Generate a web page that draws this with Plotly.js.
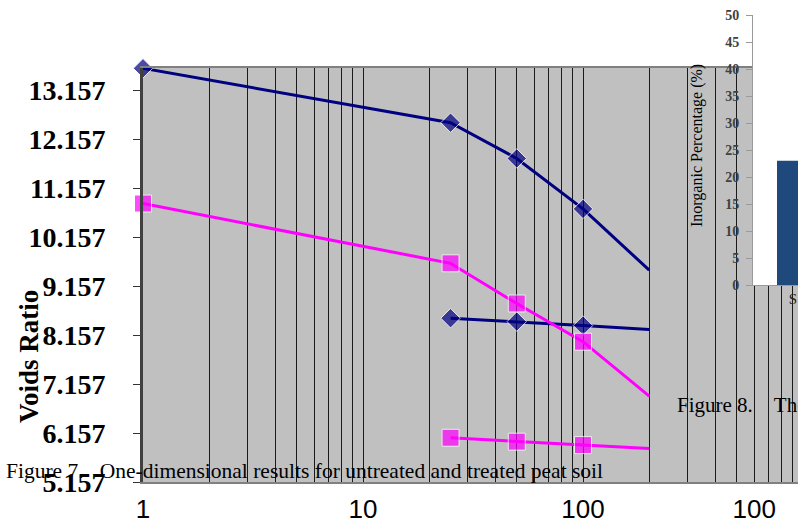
<!DOCTYPE html>
<html>
<head>
<meta charset="utf-8">
<script src="https://cdn.plot.ly/plotly-3.0.1.min.js"></script>
<style>
html, body { margin: 0; padding: 0; background: #ffffff; }
#chart { width: 798px; height: 526px; }
</style>
</head>
<body>
<div id="chart"></div>
<script>
// ---- data ----
const loadsA = [1, 25, 50, 100, 200];           // pressure (log axis)
const loadsB = [25, 50, 100, 200];
const untreatedUpper = [13.60, 12.49, 11.76, 10.73, 9.48];
const treatedUpper   = [10.84, 9.62, 8.80, 8.02, 6.91];
const untreatedLower = [8.50, 8.43, 8.35, 8.27];
const treatedLower   = [6.06, 5.98, 5.91, 5.84];

const yTickVals = [5.157, 6.157, 7.157, 8.157, 9.157, 10.157, 11.157, 12.157, 13.157];
const xGridVals = [1,2,3,4,5,6,7,8,9,10,20,30,40,50,60,70,80,90,100,200,300,400,500,600,700,800,900];
const xLabelVals = [1, 10, 100, 600];
const xLabelText = ['1', '10', '100', '100'];

// overlapping second figure (inorganic percentage bar)
const barCategories = ['S'];
const barValues = [23];
const barTicks = [0, 5, 10, 15, 20, 25, 30, 35, 40, 45, 50];

// ---- layout helpers ----
const W = 798, H = 526;
const M = { l: 143, r: 0, t: 0, b: 44 };
const PW = W - M.l - M.r, PH = H - M.t - M.b;
const px = x => (x - M.l) / PW;      // canvas px -> paper x
const py = y => (H - M.b - y) / PH;  // canvas px -> paper y

const xTickText = xGridVals.map(v => {
  const i = xLabelVals.indexOf(v);
  return i >= 0 ? xLabelText[i] : '';
});

const navy = '#000080', magenta = '#FF00FF';
const sizes = (arr, s) => arr.map((v, i) => (i === arr.length - 1 ? 0 : s));

const traces = [
  { x: loadsA, y: untreatedUpper, type: 'scatter', mode: 'lines+markers', name: 'Untreated',
    line: { color: navy, width: 3 }, marker: { symbol: 'diamond', color: navy, size: sizes(loadsA, 15) },
    cliponaxis: false, xaxis: 'x', yaxis: 'y' },
  { x: loadsB, y: untreatedLower, type: 'scatter', mode: 'lines+markers', name: 'Untreated (2)',
    line: { color: navy, width: 3 }, marker: { symbol: 'diamond', color: navy, size: sizes(loadsB, 15) },
    cliponaxis: false, xaxis: 'x', yaxis: 'y' },
  { x: loadsA, y: treatedUpper, type: 'scatter', mode: 'lines+markers', name: 'Treated',
    line: { color: magenta, width: 3 }, marker: { symbol: 'square', color: magenta, size: sizes(loadsA, 17) },
    cliponaxis: false, xaxis: 'x', yaxis: 'y' },
  { x: loadsB, y: treatedLower, type: 'scatter', mode: 'lines+markers', name: 'Treated (2)',
    line: { color: magenta, width: 3 }, marker: { symbol: 'square', color: magenta, size: sizes(loadsB, 17) },
    cliponaxis: false, xaxis: 'x', yaxis: 'y' },
  { x: [0], y: barValues, type: 'bar', width: 0.8, name: 'Inorganic',
    marker: { color: '#1F497D' }, xaxis: 'x2', yaxis: 'y2' }
];

const layout = {
  width: W, height: H,
  margin: M,
  paper_bgcolor: '#ffffff',
  plot_bgcolor: '#C0C0C0',
  showlegend: false,
  xaxis: {
    type: 'log', range: [0, (W - M.l) / 220],
    domain: [0, 1], automargin: false, anchor: 'y',
    tickvals: xGridVals, ticktext: xTickText,
    ticks: '', showgrid: true, gridcolor: '#1a1a1a', gridwidth: 1,
    showline: true, linecolor: '#808080', linewidth: 2, mirror: true,
    zeroline: false, ticklabelstandoff: 3,
    tickfont: { family: 'Liberation Sans, Arial, sans-serif', size: 26, color: '#000' }
  },
  yaxis: {
    range: [5.157, 13.606], domain: [0, py(68)], automargin: false, anchor: 'x',
    tickvals: yTickVals, tickformat: '.3f',
    ticks: 'outside', ticklen: 7, tickwidth: 1, tickcolor: '#333',
    showgrid: false, zeroline: false,
    showline: true, linecolor: '#404040', linewidth: 3, mirror: false,
    ticklabelstandoff: 22,
    tickfont: { family: 'Liberation Serif, Times New Roman, serif', size: 28, color: '#000', weight: 'bold' }
  },
  xaxis2: {
    anchor: 'y2', domain: [px(753), 1], range: [-1, 0.125], automargin: false,
    tickvals: [0], ticktext: barCategories, ticks: '',
    showgrid: false, zeroline: false, showline: true, linecolor: '#9a9a9a', linewidth: 1,
    tickfont: { family: 'Liberation Serif, Times New Roman, serif', size: 15, color: '#222' }
  },
  yaxis2: {
    anchor: 'x2', domain: [py(285), py(15)], range: [0, 50], automargin: false,
    tickvals: barTicks, ticks: 'outside', ticklen: 6, tickcolor: '#9a9a9a',
    showgrid: false, zeroline: false, showline: true, linecolor: '#9a9a9a', linewidth: 1,
    ticklabelstandoff: 4,
    tickfont: { family: 'Liberation Serif, Times New Roman, serif', size: 14, color: '#404040', weight: 'bold' }
  },
  shapes: [
    { type: 'rect', xref: 'x2', yref: 'y2', x0: -1, x1: 0.125, y0: 0, y1: 50,
      fillcolor: '#ffffff', line: { width: 0 }, layer: 'below' }
  ],
  annotations: [
    { text: 'Voids Ratio', xref: 'paper', yref: 'paper', x: px(29), y: py(357),
      xanchor: 'center', yanchor: 'middle', textangle: -90, showarrow: false,
      font: { family: 'Liberation Serif, Times New Roman, serif', size: 27, color: '#000', weight: 'bold' } },
    { text: 'Figure 7.\u00A0\u00A0\u00A0One-dimensional results for untreated and treated peat soil',
      xref: 'paper', yref: 'paper', x: px(4), y: py(471), xanchor: 'left', yanchor: 'middle', showarrow: false,
      font: { family: 'Liberation Serif, Times New Roman, serif', size: 21.5, color: '#000' } },
    { text: 'Figure 8.\u00A0\u00A0\u00A0\u00A0The',
      xref: 'paper', yref: 'paper', x: px(675), y: py(405), xanchor: 'left', yanchor: 'middle', showarrow: false,
      font: { family: 'Liberation Serif, Times New Roman, serif', size: 21, color: '#000' } },
    { text: 'Inorganic Percentage (%)', xref: 'paper', yref: 'paper', x: px(697), y: py(146),
      xanchor: 'center', yanchor: 'middle', textangle: -90, showarrow: false,
      font: { family: 'Liberation Serif, Times New Roman, serif', size: 16, color: '#000' } }
  ]
};

Plotly.newPlot('chart', traces, layout, { staticPlot: true, displayModeBar: false });
</script>
</body>
</html>
